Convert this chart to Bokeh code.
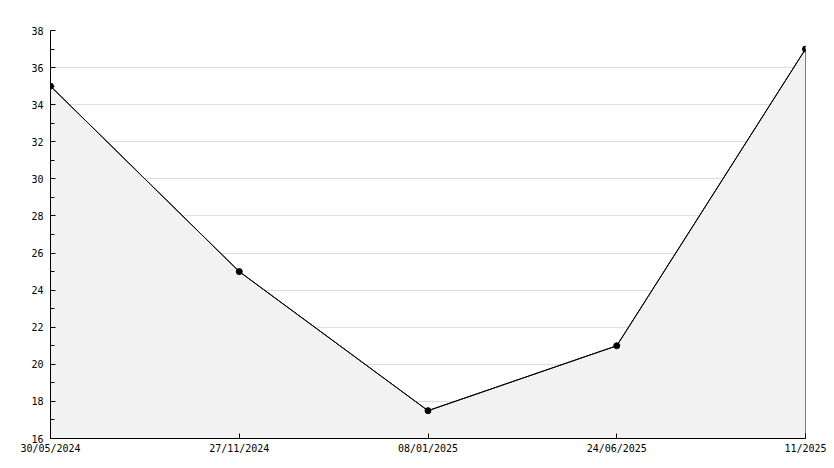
from bokeh.plotting import figure
from bokeh.models import FixedTicker, Range1d
from bokeh.embed import file_html
from bokeh.resources import INLINE

dates = ["30/05/2024", "27/11/2024", "08/01/2025", "24/06/2025", "11/2025"]
values = [35, 25, 17.5, 21, 37]
y_min, y_max = 16, 38
y_ticks = list(range(16, 39, 2))
y_minor = list(range(17, 38, 2))

xs = list(range(len(dates)))

p = figure(width=834, height=468, output_backend="svg", toolbar_location=None,
           x_range=Range1d(0, len(dates) - 1), y_range=Range1d(y_min, y_max),
           min_border_left=50, min_border_right=29, min_border_top=30, min_border_bottom=30)
p.outline_line_color = None
p.background_fill_color = "white"

# area
px = [xs[0]] + xs + [xs[-1]]
py = [y_min] + values + [y_min]
p.patch(px, py, fill_color="#f2f2f2", line_color="black", line_width=1)
p.line(xs, values, line_color="black", line_width=1)
p.scatter(xs, values, size=6, marker="circle", fill_color="black", line_color="black")

p.xaxis.ticker = FixedTicker(ticks=xs)
p.xaxis.major_label_overrides = {i: d for i, d in enumerate(dates)}
p.yaxis.ticker = FixedTicker(ticks=y_ticks, minor_ticks=y_minor)

for ax in (p.xaxis[0], p.yaxis[0]):
    ax.axis_line_color = "black"
    ax.axis_line_width = 1
    ax.major_tick_in = 5
    ax.major_tick_out = 0
    ax.minor_tick_in = 4
    ax.minor_tick_out = 0
    ax.major_tick_line_color = "black"
    ax.minor_tick_line_color = "black"
    ax.major_label_text_font = "DejaVu Sans Mono"
    ax.major_label_text_font_size = "10px"
    ax.major_label_text_color = "black"
p.xaxis.minor_tick_line_color = None
p.xaxis.major_label_standoff = 4
p.yaxis.major_label_standoff = 7

p.xgrid.grid_line_color = None
p.ygrid.grid_line_color = "#dddddd"
p.ygrid.ticker = FixedTicker(ticks=y_ticks)

open("out.html", "w").write(file_html(p, INLINE))
